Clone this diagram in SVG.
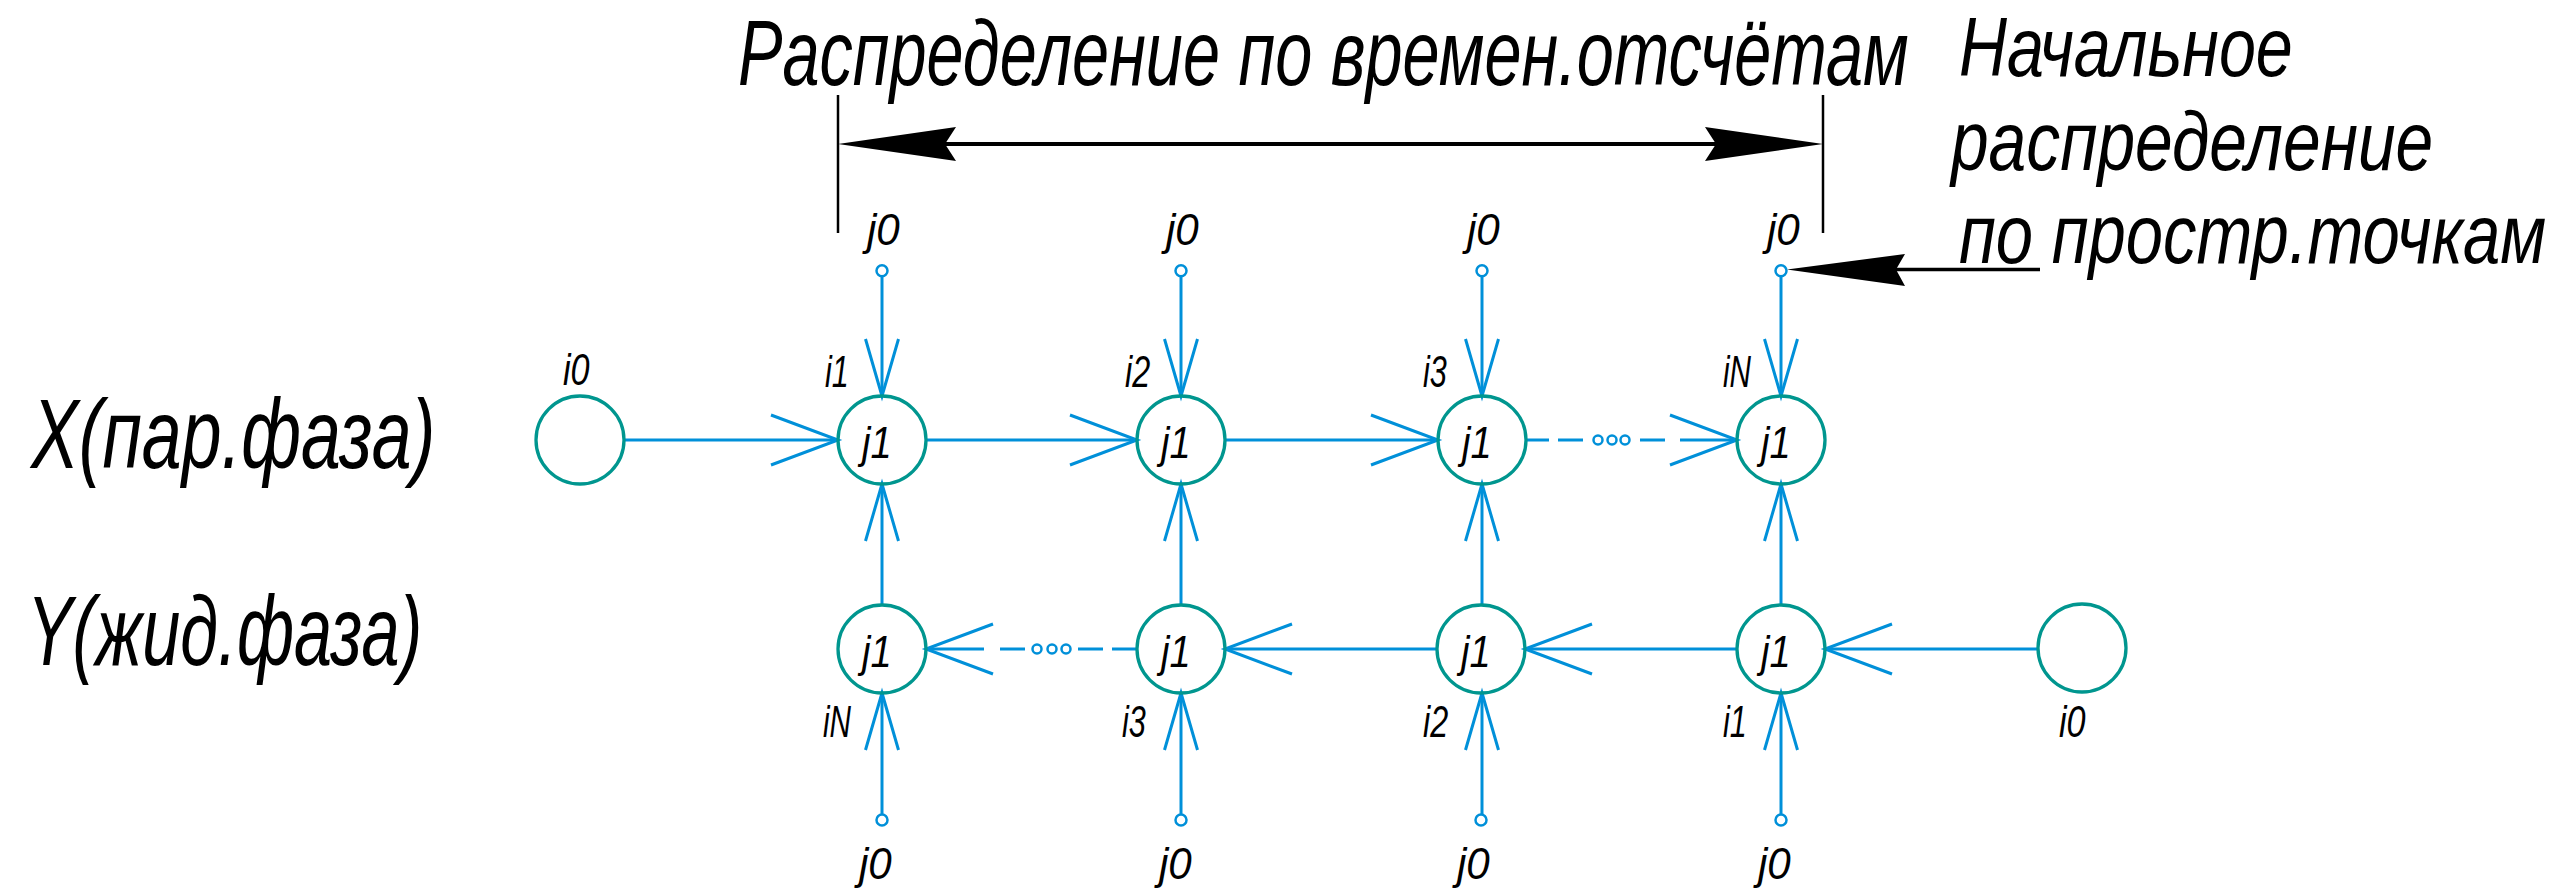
<svg xmlns="http://www.w3.org/2000/svg" width="2568" height="895" viewBox="0 0 2568 895">
<defs>
<style>
.bg{fill:#ffffff}
.node{fill:none;stroke:#00968f;stroke-width:3.3}
.src{fill:#ffffff;stroke:#0090d9;stroke-width:2.5}
.wire{fill:none;stroke:#0090d9;stroke-width:3}
.dot{fill:none;stroke:#0090d9;stroke-width:2.5}
.dim{fill:none;stroke:#000000;stroke-width:2.5}
.dimline{fill:none;stroke:#000000;stroke-width:4}
.head{fill:#000000;stroke:none}
.big{font-family:"Liberation Sans","DejaVu Sans",sans-serif;font-style:italic;font-size:92px;fill:#000000}
.note{font-family:"Liberation Sans","DejaVu Sans",sans-serif;font-style:italic;font-size:83px;fill:#000000}
.side{font-family:"Liberation Sans","DejaVu Sans",sans-serif;font-style:italic;font-size:98px;fill:#000000}
.lbl{font-family:"Liberation Sans","DejaVu Sans",sans-serif;font-style:italic;font-size:45px;fill:#000000}
</style>
<marker id="hV" markerUnits="userSpaceOnUse" markerWidth="80" markerHeight="60" refX="0" refY="0" orient="auto" overflow="visible">
<path d="M-67,-25 L0,0 L-67,25" fill="none" stroke="#0090d9" stroke-width="3"/>
</marker>
<marker id="vV" markerUnits="userSpaceOnUse" markerWidth="70" markerHeight="40" refX="0" refY="0" orient="auto" overflow="visible">
<path d="M-57,-16.5 L0,0 L-57,16.5" fill="none" stroke="#0090d9" stroke-width="3"/>
</marker>
</defs>
<rect class="bg" x="0" y="0" width="2568" height="895"/>

<g id="annotations">
<text class="big" transform="translate(738,85) scale(0.75,1)" textLength="1561" lengthAdjust="spacingAndGlyphs">Распределение по времен.отсчётам</text>
<text class="note" transform="scale(0.75,1)"><tspan x="2612" y="76" textLength="445" lengthAdjust="spacingAndGlyphs">Начальное</tspan><tspan x="2601.3" y="170" textLength="643" lengthAdjust="spacingAndGlyphs">распределение</tspan><tspan x="2612" y="263" textLength="783" lengthAdjust="spacingAndGlyphs">по простр.точкам</tspan></text>
<text class="side" transform="translate(31,468) scale(0.75,1)" textLength="539" lengthAdjust="spacingAndGlyphs">X(пар.фаза)</text>
<text class="side" transform="translate(27,665) scale(0.75,1)" textLength="527" lengthAdjust="spacingAndGlyphs">Y(жид.фаза)</text>
<line class="dim" x1="838" y1="95" x2="838" y2="233"/>
<line class="dim" x1="1823" y1="95" x2="1823" y2="233"/>
<line class="dimline" x1="945" y1="144" x2="1716" y2="144"/>
<path class="head" d="M838,144 L956,127 L945,144 L956,161 Z"/>
<path class="head" d="M1823,144 L1705,127 L1716,144 L1705,161 Z"/>
<line class="dimline" x1="1890" y1="269.5" x2="2040" y2="269.5" style="stroke-width:3.5"/>
<path class="head" d="M1787,269.5 L1905,254 L1896,269.5 L1905,286 Z"/>
</g>

<g id="connectors">
<path class="wire" d="M624,440 H838" marker-end="url(#hV)"/>
<path class="wire" d="M926,440 H1137" marker-end="url(#hV)"/>
<path class="wire" d="M1226,440 H1438" marker-end="url(#hV)"/>
<path class="wire" d="M1526,440 H1549 M1558,440 H1583 M1640,440 H1665"/>
<circle class="dot" cx="1598" cy="440" r="4.5"/>
<circle class="dot" cx="1612" cy="440" r="4.5"/>
<circle class="dot" cx="1625" cy="440" r="4.5"/>
<path class="wire" d="M1680,440 H1737" marker-end="url(#hV)"/>
<path class="wire" d="M2038,649 H1825" marker-end="url(#hV)"/>
<path class="wire" d="M1737,649 H1525" marker-end="url(#hV)"/>
<path class="wire" d="M1437,649 H1225" marker-end="url(#hV)"/>
<path class="wire" d="M1137,649 H1112 M1103,649 H1078 M1025,649 H1000"/>
<circle class="dot" cx="1066" cy="649" r="4.5"/>
<circle class="dot" cx="1052" cy="649" r="4.5"/>
<circle class="dot" cx="1037" cy="649" r="4.5"/>
<path class="wire" d="M984,649 H926" marker-end="url(#hV)"/>
<path class="wire" d="M882,276 V396" marker-end="url(#vV)"/>
<path class="wire" d="M882,605 V484" marker-end="url(#vV)"/>
<path class="wire" d="M882,815 V693" marker-end="url(#vV)"/>
<path class="wire" d="M1181,276 V396" marker-end="url(#vV)"/>
<path class="wire" d="M1181,605 V484" marker-end="url(#vV)"/>
<path class="wire" d="M1181,815 V693" marker-end="url(#vV)"/>
<path class="wire" d="M1482,276 V396" marker-end="url(#vV)"/>
<path class="wire" d="M1482,605 V484" marker-end="url(#vV)"/>
<path class="wire" d="M1482,815 V693" marker-end="url(#vV)"/>
<path class="wire" d="M1781,276 V396" marker-end="url(#vV)"/>
<path class="wire" d="M1781,605 V484" marker-end="url(#vV)"/>
<path class="wire" d="M1781,815 V693" marker-end="url(#vV)"/>
</g>

<g id="sources-top">
<g id="src-t1"><circle class="src" cx="882" cy="270.7" r="5.5"/><text class="lbl" transform="translate(867,245) scale(0.8,1)" textLength="41" lengthAdjust="spacingAndGlyphs">j0</text></g>
<g id="src-t2"><circle class="src" cx="1181" cy="270.7" r="5.5"/><text class="lbl" transform="translate(1166,245) scale(0.8,1)" textLength="41" lengthAdjust="spacingAndGlyphs">j0</text></g>
<g id="src-t3"><circle class="src" cx="1482" cy="270.7" r="5.5"/><text class="lbl" transform="translate(1467,245) scale(0.8,1)" textLength="41" lengthAdjust="spacingAndGlyphs">j0</text></g>
<g id="src-t4"><circle class="src" cx="1781" cy="270.7" r="5.5"/><text class="lbl" transform="translate(1767,245) scale(0.8,1)" textLength="41" lengthAdjust="spacingAndGlyphs">j0</text></g>
</g>
<g id="sources-bottom">
<g id="src-b1"><circle class="src" cx="882" cy="820" r="5.5"/><text class="lbl" transform="translate(859,879) scale(0.8,1)" textLength="41" lengthAdjust="spacingAndGlyphs">j0</text></g>
<g id="src-b2"><circle class="src" cx="1181" cy="820" r="5.5"/><text class="lbl" transform="translate(1159,879) scale(0.8,1)" textLength="41" lengthAdjust="spacingAndGlyphs">j0</text></g>
<g id="src-b3"><circle class="src" cx="1481" cy="820" r="5.5"/><text class="lbl" transform="translate(1457,879) scale(0.8,1)" textLength="41" lengthAdjust="spacingAndGlyphs">j0</text></g>
<g id="src-b4"><circle class="src" cx="1781" cy="820" r="5.5"/><text class="lbl" transform="translate(1758,879) scale(0.8,1)" textLength="41" lengthAdjust="spacingAndGlyphs">j0</text></g>
</g>

<g id="node-x-in"><circle class="node" cx="580" cy="440" r="44"/><text class="lbl" transform="translate(563,385) scale(0.7,1)" textLength="38" lengthAdjust="spacingAndGlyphs">i0</text></g>
<g id="node-y-in"><circle class="node" cx="2082" cy="648" r="44"/><text class="lbl" transform="translate(2059,737) scale(0.7,1)" textLength="38" lengthAdjust="spacingAndGlyphs">i0</text></g>

<g id="node-x1"><circle class="node" cx="882" cy="440" r="44"/><text class="lbl" transform="translate(862,458) scale(0.8,1)" textLength="37" lengthAdjust="spacingAndGlyphs">j1</text><text class="lbl" transform="translate(825,387) scale(0.7,1)" textLength="34" lengthAdjust="spacingAndGlyphs">i1</text></g>
<g id="node-x2"><circle class="node" cx="1181" cy="440" r="44"/><text class="lbl" transform="translate(1161,458) scale(0.8,1)" textLength="37" lengthAdjust="spacingAndGlyphs">j1</text><text class="lbl" transform="translate(1125,387) scale(0.7,1)" textLength="36" lengthAdjust="spacingAndGlyphs">i2</text></g>
<g id="node-x3"><circle class="node" cx="1482" cy="440" r="44"/><text class="lbl" transform="translate(1462,458) scale(0.8,1)" textLength="37" lengthAdjust="spacingAndGlyphs">j1</text><text class="lbl" transform="translate(1423,387) scale(0.7,1)" textLength="34" lengthAdjust="spacingAndGlyphs">i3</text></g>
<g id="node-x4"><circle class="node" cx="1781" cy="440" r="44"/><text class="lbl" transform="translate(1761,458) scale(0.8,1)" textLength="37" lengthAdjust="spacingAndGlyphs">j1</text><text class="lbl" transform="translate(1723,387) scale(0.7,1)" textLength="40" lengthAdjust="spacingAndGlyphs">iN</text></g>

<g id="node-y1"><circle class="node" cx="882" cy="649" r="44"/><text class="lbl" transform="translate(862,667) scale(0.8,1)" textLength="37" lengthAdjust="spacingAndGlyphs">j1</text><text class="lbl" transform="translate(823,737) scale(0.7,1)" textLength="40" lengthAdjust="spacingAndGlyphs">iN</text></g>
<g id="node-y2"><circle class="node" cx="1181" cy="649" r="44"/><text class="lbl" transform="translate(1161,667) scale(0.8,1)" textLength="37" lengthAdjust="spacingAndGlyphs">j1</text><text class="lbl" transform="translate(1122,737) scale(0.7,1)" textLength="34" lengthAdjust="spacingAndGlyphs">i3</text></g>
<g id="node-y3"><circle class="node" cx="1481" cy="649" r="44"/><text class="lbl" transform="translate(1461,667) scale(0.8,1)" textLength="37" lengthAdjust="spacingAndGlyphs">j1</text><text class="lbl" transform="translate(1423,737) scale(0.7,1)" textLength="36" lengthAdjust="spacingAndGlyphs">i2</text></g>
<g id="node-y4"><circle class="node" cx="1781" cy="649" r="44"/><text class="lbl" transform="translate(1761,667) scale(0.8,1)" textLength="37" lengthAdjust="spacingAndGlyphs">j1</text><text class="lbl" transform="translate(1723,737) scale(0.7,1)" textLength="34" lengthAdjust="spacingAndGlyphs">i1</text></g>
</svg>
